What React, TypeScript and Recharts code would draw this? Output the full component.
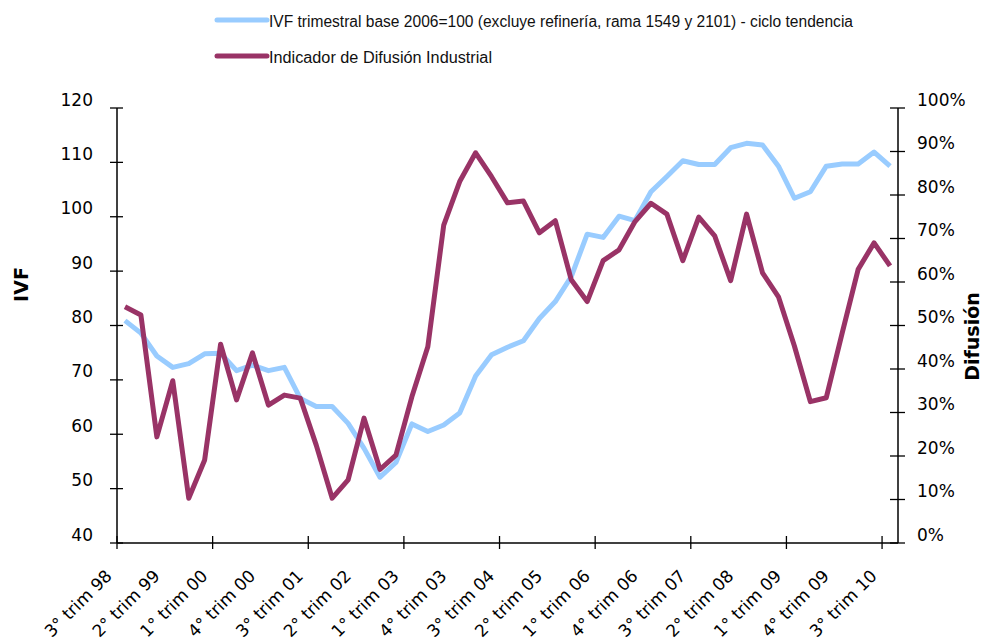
import React from "react";
import { LineChart, Line, XAxis, YAxis, Legend, Customized } from "recharts";

const quarters: string[] = [
  "3° trim 98", "4° trim 98",
  "1° trim 99", "2° trim 99", "3° trim 99", "4° trim 99",
  "1° trim 00", "2° trim 00", "3° trim 00", "4° trim 00",
  "1° trim 01", "2° trim 01", "3° trim 01", "4° trim 01",
  "1° trim 02", "2° trim 02", "3° trim 02", "4° trim 02",
  "1° trim 03", "2° trim 03", "3° trim 03", "4° trim 03",
  "1° trim 04", "2° trim 04", "3° trim 04", "4° trim 04",
  "1° trim 05", "2° trim 05", "3° trim 05", "4° trim 05",
  "1° trim 06", "2° trim 06", "3° trim 06", "4° trim 06",
  "1° trim 07", "2° trim 07", "3° trim 07", "4° trim 07",
  "1° trim 08", "2° trim 08", "3° trim 08", "4° trim 08",
  "1° trim 09", "2° trim 09", "3° trim 09", "4° trim 09",
  "1° trim 10", "2° trim 10", "3° trim 10",
];

const ivf: number[] = [
  80.9, 78.6, 74.4, 72.3, 73.0, 74.8, 74.9, 71.7, 72.7, 71.7,
  72.3, 66.6, 65.1, 65.1, 62.0, 57.4, 52.1, 54.8, 61.9, 60.5,
  61.7, 63.9, 70.7, 74.6, 76.0, 77.2, 81.3, 84.4, 89.0, 96.8,
  96.2, 100.1, 99.3, 104.6, 107.4, 110.3, 109.6, 109.6, 112.7, 113.5,
  113.2, 109.3, 103.4, 104.6, 109.3, 109.7, 109.7, 111.9, 109.3,
];

const difusion: number[] = [
  54.3, 52.4, 24.4, 37.3, 10.3, 19.1, 45.7, 32.9, 43.7, 31.7,
  34.0, 33.3, 22.5, 10.3, 14.5, 28.7, 16.9, 20.2, 33.6, 45.1,
  73.1, 83.1, 89.7, 84.2, 78.2, 78.6, 71.3, 74.1, 60.5, 55.5,
  64.9, 67.4, 73.9, 78.1, 75.6, 64.9, 74.9, 70.6, 60.3, 75.6,
  62.1, 56.6, 45.3, 32.5, 33.4, 48.3, 62.9, 69.0, 63.7,
];

const ivfTicks: number[] = [40, 50, 60, 70, 80, 90, 100, 110, 120];
const difTicks: number[] = [0, 10, 20, 30, 40, 50, 60, 70, 80, 90, 100];

const seriesNames = {
  ivf: "IVF trimestral base 2006=100 (excluye refinería, rama 1549 y 2101) - ciclo tendencia",
  dif: "Indicador de Difusión Industrial",
};

const data = quarters.map((q, i) => ({ q, ivf: ivf[i], dif: difusion[i] }));

const BLUE = "#99CCFF";
const MAGENTA = "#993366";
const TICK_FONT = "'DejaVu Sans', sans-serif";

const W = 975;
const H = 636;
const margin = { top: 100, right: 25, bottom: 41, left: 49 };
const LEFT_W = 60;
const RIGHT_W = 60;
const plotW = W - margin.left - margin.right - LEFT_W - RIGHT_W;
const HALF_BAND = plotW / quarters.length / 2;

const XTick = (props: any) => {
  const { x, y, index, payload } = props;
  const ax = x - 12;
  const ay = y + 34;
  return (
    <g>
      {index % 6 === 0 && (
        <line x1={x - HALF_BAND} x2={x - HALF_BAND} y1={y - 7} y2={y + 6} stroke="#000" strokeWidth={1.3} />
      )}
      {index % 3 === 0 && (
        <text
          x={ax}
          y={ay}
          textAnchor="end"
          transform={`rotate(-45, ${ax}, ${ay})`}
          style={{ fontFamily: TICK_FONT, fontSize: 17, fill: "#000" }}
        >
          {payload.value}
        </text>
      )}
    </g>
  );
};

const LeftTick = (props: any) => {
  const { x, y, payload } = props;
  return (
    <g>
      <line x1={x - 7} x2={x + 6} y1={y} y2={y} stroke="#000" strokeWidth={1.3} />
      <text x={x - 24} y={y - 2.5} textAnchor="end" style={{ fontFamily: TICK_FONT, fontSize: 17, fill: "#000" }}>
        {payload.value}
      </text>
    </g>
  );
};

const RightTick = (props: any) => {
  const { x, y, payload } = props;
  return (
    <g>
      <line x1={x - 8} x2={x + 7} y1={y} y2={y} stroke="#000" strokeWidth={1.3} />
      <text x={x + 19} y={y - 2.5} textAnchor="start" style={{ fontFamily: TICK_FONT, fontSize: 17, fill: "#000" }}>
        {`${payload.value}%`}
      </text>
    </g>
  );
};

const LegendContent = () => (
  <svg width={W} height={70} style={{ display: "block" }}>
    <line x1={209} x2={259} y1={12} y2={12} stroke={BLUE} strokeWidth={5} strokeLinecap="round" />
    <text
      x={261}
      y={19}
      textLength={584}
      lengthAdjust="spacingAndGlyphs"
      style={{ fontFamily: "'Liberation Sans', Arial, sans-serif", fontSize: 16, fill: "#111" }}
    >
      {seriesNames.ivf}
    </text>
    <line x1={209} x2={259} y1={48} y2={48} stroke={MAGENTA} strokeWidth={5} strokeLinecap="round" />
    <text
      x={261}
      y={55}
      textLength={223}
      lengthAdjust="spacingAndGlyphs"
      style={{ fontFamily: "'Liberation Sans', Arial, sans-serif", fontSize: 16, fill: "#111" }}
    >
      {seriesNames.dif}
    </text>
  </svg>
);

const Titles = () => (
  <g>
    <text
      x={12.5}
      y={276.5}
      textAnchor="middle"
      dominantBaseline="central"
      transform="rotate(-90, 12.5, 276.5)"
      style={{ fontFamily: TICK_FONT, fontSize: 19, fontWeight: "bold", fill: "#000" }}
    >
      IVF
    </text>
    <text
      x={964}
      y={328.5}
      textAnchor="middle"
      dominantBaseline="central"
      transform="rotate(-90, 964, 328.5)"
      style={{ fontFamily: TICK_FONT, fontSize: 19, fontWeight: "bold", fill: "#000" }}
    >
      Difusión
    </text>
  </g>
);

export default function App() {
  return (
    <div style={{ position: "fixed", left: 0, top: 0, width: 983, height: 644, overflow: "hidden", background: "#fff" }}>
      <div style={{ position: "absolute", left: 8, top: 8, width: W, height: H }}>
        <LineChart width={W} height={H} data={data} margin={margin}>
          <Legend
            layout="horizontal"
            verticalAlign="middle"
            align="center"
            content={<LegendContent />}
            wrapperStyle={{ position: "absolute", top: 0, left: 0, width: W, height: 70 }}
          />
          <XAxis
            dataKey="q"
            scale="point"
            padding={{ left: HALF_BAND, right: HALF_BAND }}
            interval={0}
            tickLine={false}
            tickSize={0}
            tickMargin={0}
            height={60}
            axisLine={{ stroke: "#000", strokeWidth: 1.5 }}
            tick={<XTick />}
          />
          <YAxis
            yAxisId="left"
            orientation="left"
            width={LEFT_W}
            domain={[40, 120]}
            ticks={ivfTicks}
            interval={0}
            tickLine={false}
            tickSize={0}
            tickMargin={0}
            axisLine={{ stroke: "#000", strokeWidth: 1.5 }}
            tick={<LeftTick />}
          />
          <YAxis
            yAxisId="right"
            orientation="right"
            width={RIGHT_W}
            domain={[0, 100]}
            ticks={difTicks}
            interval={0}
            tickLine={false}
            tickSize={0}
            tickMargin={0}
            axisLine={{ stroke: "#000", strokeWidth: 1.5 }}
            tick={<RightTick />}
          />
          <Line
            yAxisId="left"
            type="linear"
            dataKey="ivf"
            name={seriesNames.ivf}
            stroke={BLUE}
            strokeWidth={5}
            strokeLinejoin="round"
            dot={false}
            activeDot={false}
            isAnimationActive={false}
          />
          <Line
            yAxisId="right"
            type="linear"
            dataKey="dif"
            name={seriesNames.dif}
            stroke={MAGENTA}
            strokeWidth={5}
            strokeLinejoin="round"
            dot={false}
            activeDot={false}
            isAnimationActive={false}
          />
          <Customized component={Titles} />
        </LineChart>
      </div>
    </div>
  );
}
